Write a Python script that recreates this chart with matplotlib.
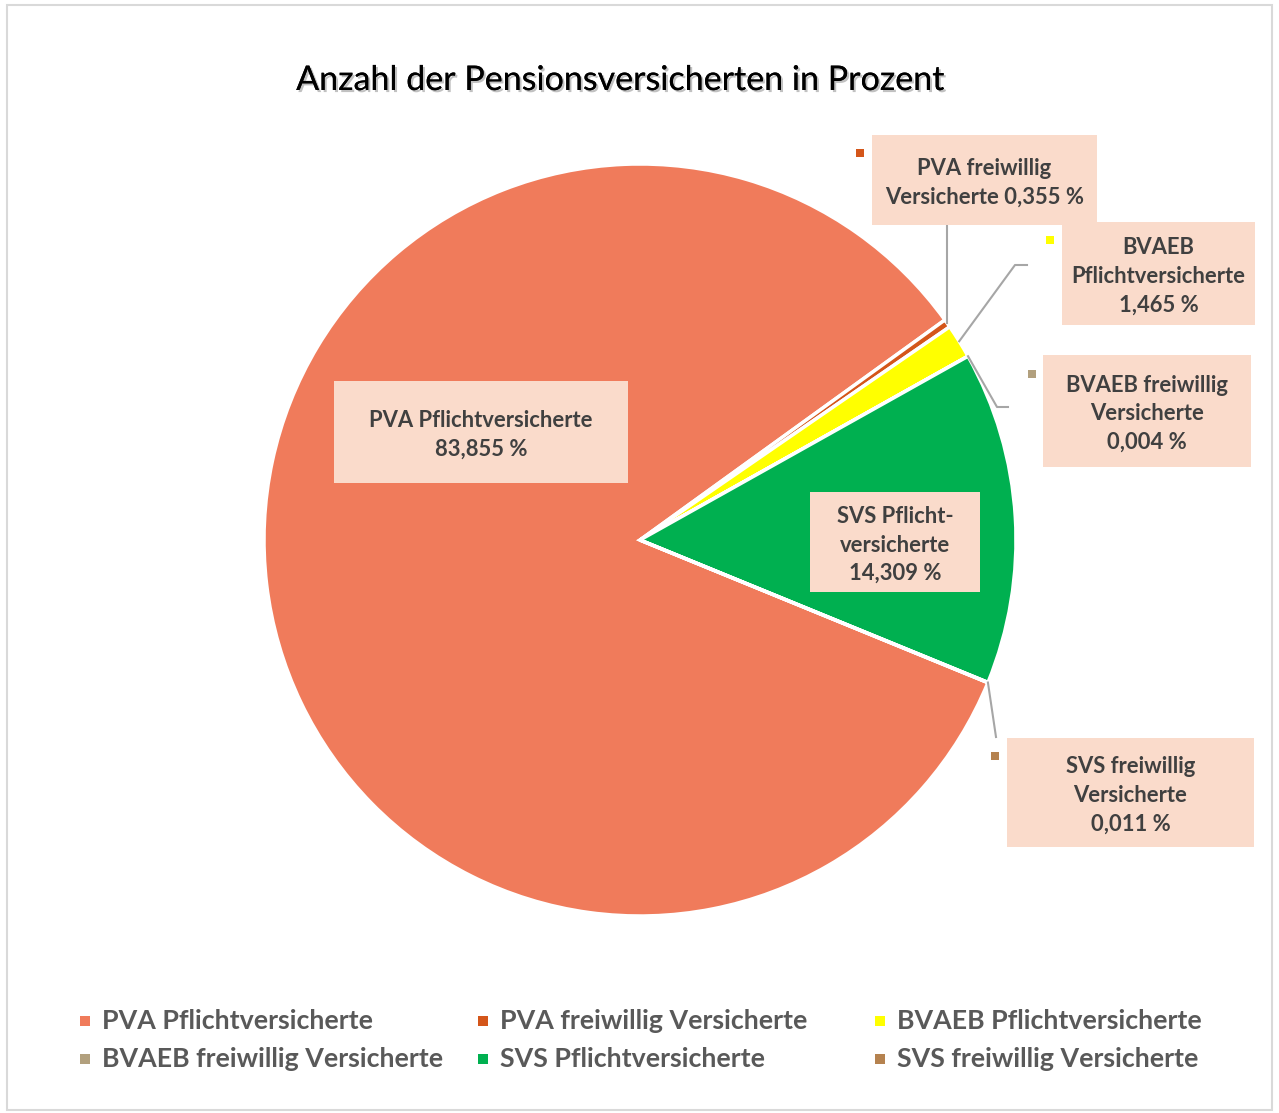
import matplotlib
matplotlib.use("Agg")
import matplotlib.pyplot as plt
import matplotlib.patheffects as pe
from matplotlib.patches import Rectangle
import numpy as np

plt.rcParams['font.family'] = ['Lato', 'DejaVu Sans']

W, H = 1279, 1113

# Daten
kategorien = ["PVA Pflichtversicherte", "PVA freiwillig Versicherte",
              "BVAEB Pflichtversicherte", "BVAEB freiwillig Versicherte",
              "SVS Pflichtversicherte", "SVS freiwillig Versicherte"]
anteile = [83.855, 0.355, 1.465, 0.004, 14.309, 0.011]
farben = ["#F07B5B", "#D4561A", "#FFFF00", "#B2A07E", "#00B050", "#B5824F"]
label_vorlagen = ["PVA Pflichtversicherte\n{}", "PVA freiwillig\nVersicherte {}",
                  "BVAEB\nPflichtversicherte\n{}", "BVAEB freiwillig\nVersicherte\n{}",
                  "SVS Pflicht-\nversicherte\n{}", "SVS freiwillig\nVersicherte\n{}"]

# Layout in Bildpixeln (x0, y0, x1, y1), y von oben
boxen = [(334, 381, 628, 483), (872, 135, 1097, 225), (1062, 222, 1255, 325),
         (1043, 355, 1251, 467), (810, 492, 980, 592), (1007, 738, 1254, 847)]
knicke = {1: [(None, 226)], 2: [(1015, 265), (1027, 265)],
          3: [(997, 407), (1008, 407)], 5: [(996, 737)]}
quadrate = {1: (860, 153), 2: (1050, 240), 3: (1032, 374), 5: (995, 756)}

fig = plt.figure(figsize=(W / 100, H / 100), dpi=100)
ax = fig.add_axes([0, 0, 1, 1])

cx, cy, r = 640, H - 540, 376
wedges, _ = ax.pie(anteile, colors=farben, startangle=-22.3, counterclock=False,
                   center=(cx, cy), radius=r,
                   wedgeprops=dict(edgecolor='white', linewidth=2.5))
ax.set_xlim(0, W)
ax.set_ylim(0, H)
ax.set_aspect('equal')
ax.axis('off')

# Rahmen
fig.patches.append(Rectangle((7, 3), 1265, 1105, transform=None, fill=False,
                             edgecolor='#D9D9D9', linewidth=1.5))

for i, w in enumerate(wedges):
    x0, y0, x1, y1 = boxen[i]
    ax.add_patch(Rectangle((x0, H - y1), x1 - x0, y1 - y0, facecolor='#FADBCB',
                           edgecolor='none', zorder=3))
    wert = f"{anteile[i]:.3f}".replace('.', ',') + " %"
    ax.text((x0 + x1) / 2, H - (y0 + y1) / 2 - 3, label_vorlagen[i].format(wert),
            ha='center', va='center', fontsize=15.8, fontweight='bold',
            color='#404040', linespacing=1.45, zorder=4)
    if i in knicke:
        mid = np.deg2rad((w.theta1 + w.theta2) / 2)
        px, py = cx + r * np.cos(mid), cy + r * np.sin(mid)
        xs, ys = [px], [py]
        for kx, ky in knicke[i]:
            xs.append(px if kx is None else kx)
            ys.append(H - ky)
        ax.plot(xs, ys, color='#A6A6A6', linewidth=1.5, zorder=2)
        qx, qy = quadrate[i]
        ax.add_patch(Rectangle((qx - 4, H - qy - 4), 8, 8, facecolor=farben[i],
                               edgecolor='none', zorder=3))

# Titel
fig.text(620 / W, 1 - 80 / H, "Anzahl der Pensionsversicherten in Prozent",
         ha='center', va='center', fontsize=24.5, color='black',
         path_effects=[pe.withSimplePatchShadow(offset=(1.5, -1.5),
                                                shadow_rgbFace='#999999', alpha=0.6),
                       pe.Normal()])

# Legende
spalten_x = [85, 483, 880]
zeilen_y = [1021, 1059]
for i, name in enumerate(kategorien):
    lx = spalten_x[i % 3]
    ly = zeilen_y[i // 3]
    ax.add_patch(Rectangle((lx - 5, H - ly - 5), 10, 10, facecolor=farben[i],
                           edgecolor='none'))
    ax.text(lx + 17, H - ly, name, ha='left', va='center', fontsize=19.3,
            fontweight='bold', color='#595959')

fig.savefig("out.png", dpi=100)
